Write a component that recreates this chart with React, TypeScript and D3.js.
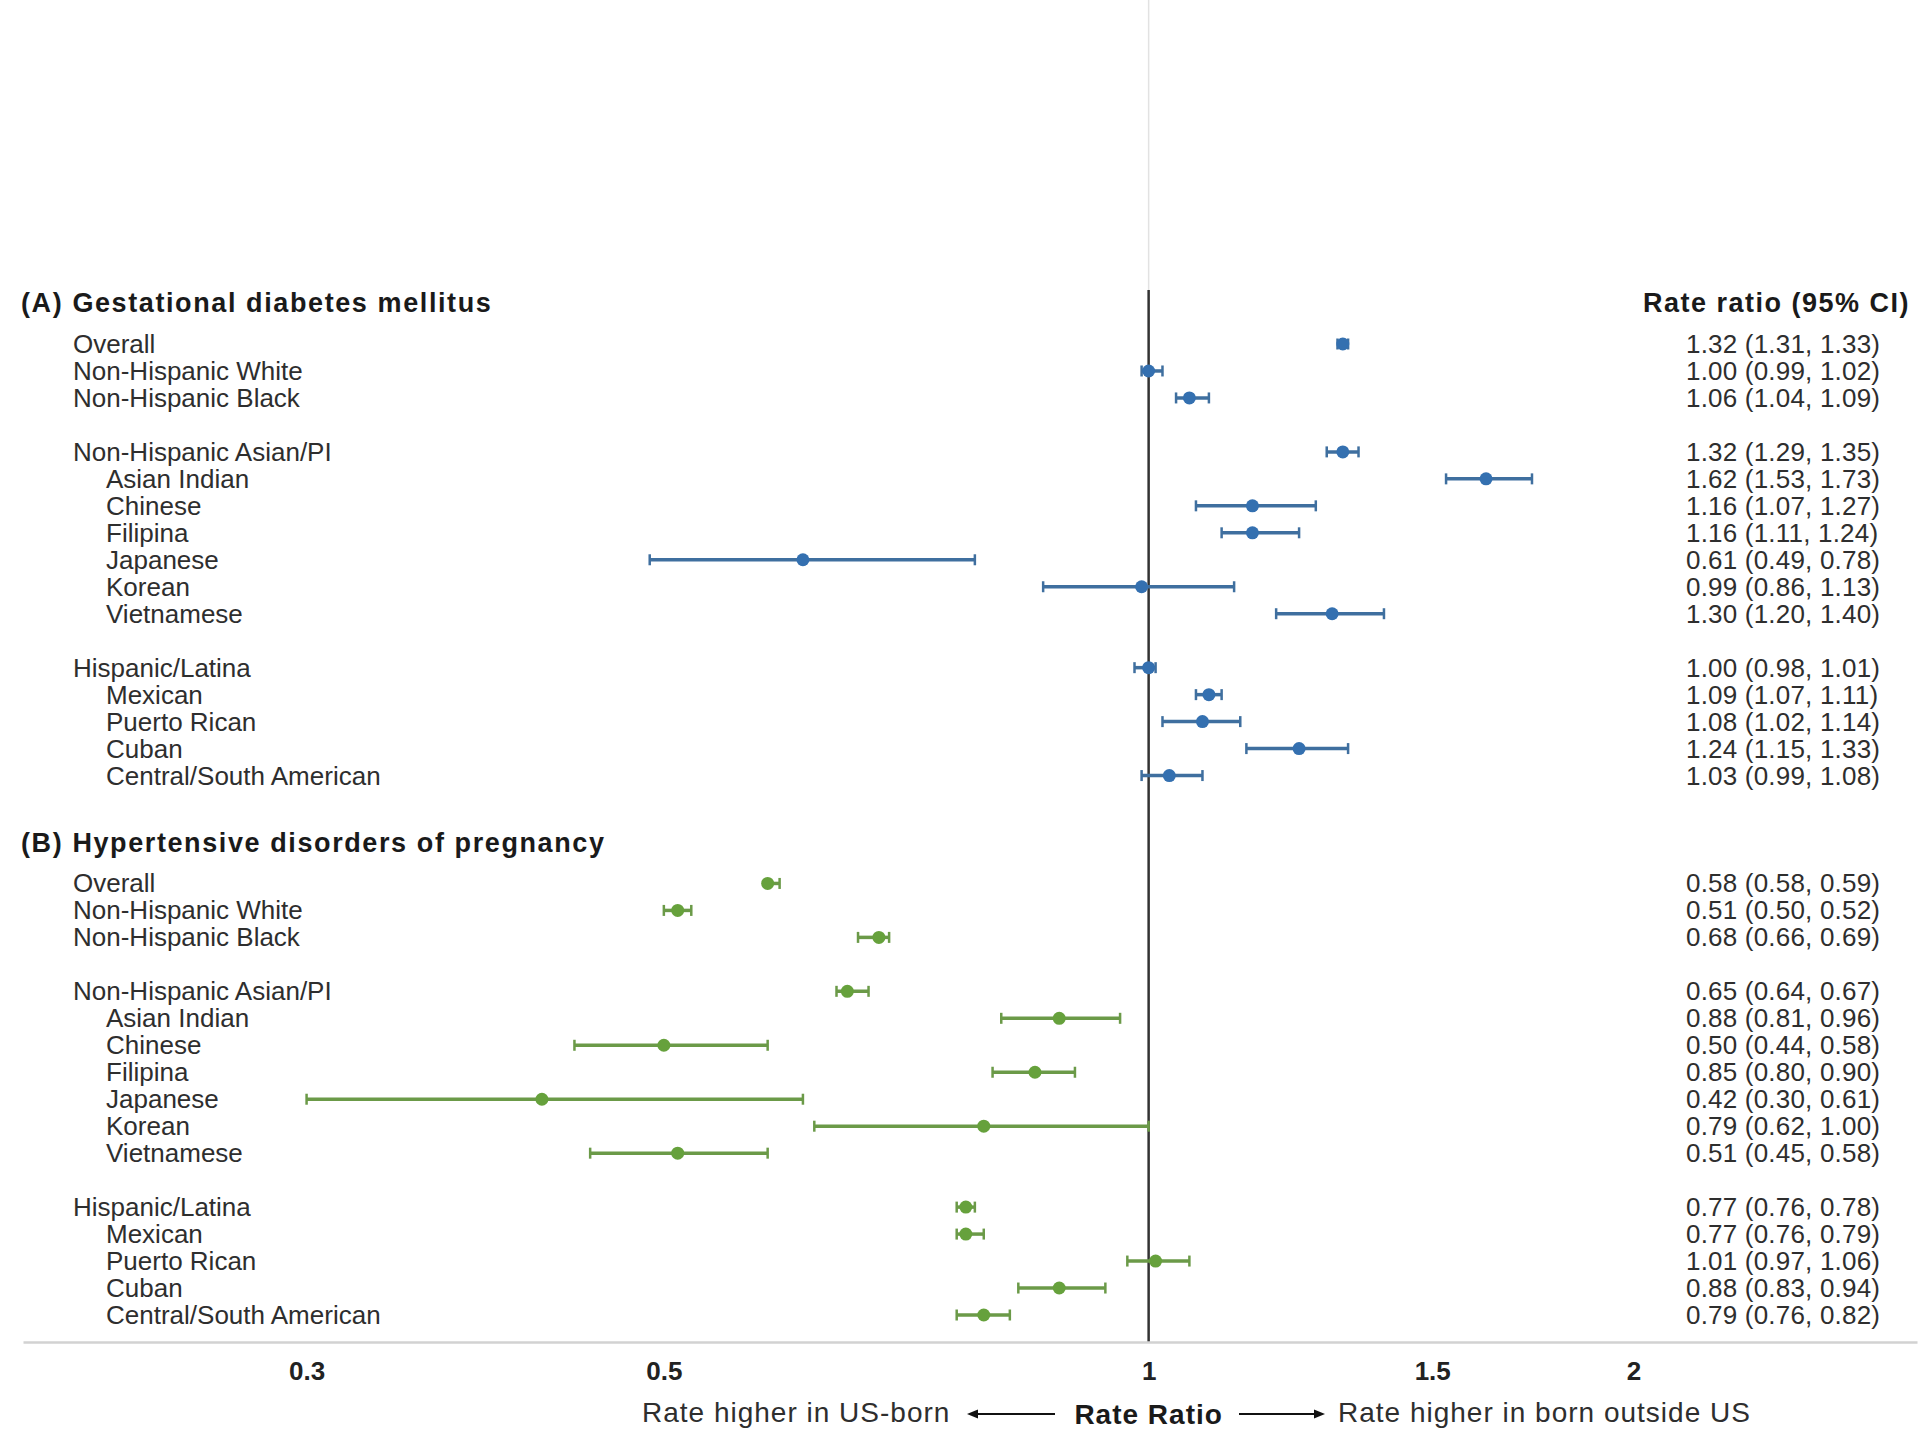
import React, { useEffect, useRef } from 'react';
import * as d3 from 'd3';

// row labels, in three blocks separated by a blank row
const groupLabels: string[][] = [
  ['Overall', 'Non-Hispanic White', 'Non-Hispanic Black'],
  ['Non-Hispanic Asian/PI', 'Asian Indian', 'Chinese', 'Filipina', 'Japanese', 'Korean', 'Vietnamese'],
  ['Hispanic/Latina', 'Mexican', 'Puerto Rican', 'Cuban', 'Central/South American'],
];
const subgroupLabels = ['Asian Indian', 'Chinese', 'Filipina', 'Japanese', 'Korean', 'Vietnamese',
  'Mexican', 'Puerto Rican', 'Cuban', 'Central/South American'];

const sectionTitles = ['(A) Gestational diabetes mellitus', '(B) Hypertensive disorders of pregnancy'];

// (A) gestational diabetes
const gdmRR = [1.32, 1.00, 1.06, 1.32, 1.62, 1.16, 1.16, 0.61, 0.99, 1.30, 1.00, 1.09, 1.08, 1.24, 1.03];
const gdmLo = [1.31, 0.99, 1.04, 1.29, 1.53, 1.07, 1.11, 0.49, 0.86, 1.20, 0.98, 1.07, 1.02, 1.15, 0.99];
const gdmHi = [1.33, 1.02, 1.09, 1.35, 1.73, 1.27, 1.24, 0.78, 1.13, 1.40, 1.01, 1.11, 1.14, 1.33, 1.08];

// (B) hypertensive disorders
const hdpRR = [0.58, 0.51, 0.68, 0.65, 0.88, 0.50, 0.85, 0.42, 0.79, 0.51, 0.77, 0.77, 1.01, 0.88, 0.79];
const hdpLo = [0.58, 0.50, 0.66, 0.64, 0.81, 0.44, 0.80, 0.30, 0.62, 0.45, 0.76, 0.76, 0.97, 0.83, 0.76];
const hdpHi = [0.59, 0.52, 0.69, 0.67, 0.96, 0.58, 0.90, 0.61, 1.00, 0.58, 0.78, 0.79, 1.06, 0.94, 0.82];

const tickValues = [0.3, 0.5, 1, 1.5, 2];

const W = 1920;
const H = 1447;
const FONT = '"Liberation Sans", Arial, sans-serif';
const TEXT = '#2e2e2e';

const ForestPlot = () => {
  const svgRef = useRef<SVGSVGElement>(null);

  useEffect(() => {
    document.body.style.margin = '0';
    const svg = d3.select(svgRef.current);
    svg.selectAll('*').remove();
    svg.attr('width', W).attr('height', H).style('display', 'block').style('background', '#fff');

    const x = d3.scaleLog().domain([0.2, 3]).range([23, 1917]);
    const y = d3.scaleLinear().domain([0, 36]).range([344, 1315]);
    const axisY = 1342;
    const fmt = d3.format('.2f');

    // slot index for each row, blank row between blocks, header between sections
    const labels = groupLabels.flat();
    const slots: number[] = [];
    let s = 0;
    groupLabels.forEach((g) => {
      g.forEach(() => slots.push(s++));
      s++;
    });
    const sectionOffset = slots[slots.length - 1] + 4;

    const sections = [
      { rr: gdmRR, lo: gdmLo, hi: gdmHi, color: '#3470b0', line: '#3f6f9f', offset: 0 },
      { rr: hdpRR, lo: hdpLo, hi: hdpHi, color: '#66a13c', line: '#6b9a48', offset: sectionOffset },
    ];

    // faint line above plot, dark reference line at 1
    svg.append('line')
      .attr('x1', x(1)).attr('x2', x(1))
      .attr('y1', 0).attr('y2', 290)
      .attr('stroke', '#e2e2e2').attr('stroke-width', 1.5);
    svg.append('line')
      .attr('x1', x(1)).attr('x2', x(1))
      .attr('y1', 290).attr('y2', axisY)
      .attr('stroke', '#333').attr('stroke-width', 2.5);

    // axis
    const axis = svg.append('g')
      .attr('transform', `translate(0,${axisY})`)
      .call(d3.axisBottom(x).tickValues(tickValues).tickSize(0).tickPadding(20).tickFormat(d3.format('~g') as any));
    axis.select('.domain').attr('stroke', '#d2d2d2').attr('stroke-width', 2.5);
    axis.selectAll('text')
      .attr('fill', '#222')
      .style('font-family', FONT)
      .style('font-size', '26px')
      .style('font-weight', 'bold');

    // column header
    svg.append('text')
      .attr('x', 1910).attr('y', y(-1.55) + 10)
      .attr('text-anchor', 'end')
      .attr('fill', '#1a1a1a')
      .style('font-family', FONT).style('font-size', '27px').style('font-weight', 'bold')
      .style('letter-spacing', '1.5px')
      .text('Rate ratio (95% CI)');

    sections.forEach((sec, si) => {
      const g = svg.append('g');

      g.append('text')
        .attr('x', 21).attr('y', y(sec.offset - 1.55) + 10)
        .attr('fill', '#1a1a1a')
        .style('font-family', FONT).style('font-size', '27px').style('font-weight', 'bold')
        .style('letter-spacing', '1.6px')
        .text(sectionTitles[si]);

      labels.forEach((lab, i) => {
        const yy = y(slots[i] + sec.offset);

        g.append('text')
          .attr('x', subgroupLabels.includes(lab) ? 106 : 73)
          .attr('y', yy + 9)
          .attr('fill', TEXT)
          .style('font-family', FONT).style('font-size', '26px')
          .text(lab);

        g.append('text')
          .attr('x', 1686)
          .attr('y', yy + 9)
          .attr('fill', TEXT)
          .style('font-family', FONT).style('font-size', '26px')
          .style('letter-spacing', '0.2px')
          .text(`${fmt(sec.rr[i])} (${fmt(sec.lo[i])}, ${fmt(sec.hi[i])})`);

        // CI whisker with caps
        g.append('line')
          .attr('x1', x(sec.lo[i])).attr('x2', x(sec.hi[i]))
          .attr('y1', yy).attr('y2', yy)
          .attr('stroke', sec.line).attr('stroke-width', 3.5);
        [sec.lo[i], sec.hi[i]].forEach((v) => {
          g.append('line')
            .attr('x1', x(v)).attr('x2', x(v))
            .attr('y1', yy - 5.5).attr('y2', yy + 5.5)
            .attr('stroke', sec.line).attr('stroke-width', 2.5);
        });
        g.append('circle')
          .attr('cx', x(sec.rr[i])).attr('cy', yy)
          .attr('r', 6.5)
          .attr('fill', sec.color);
      });
    });

    // bottom caption with arrows
    const capY = 1422;
    const arrowY = 1414;
    const cap = svg.append('g')
      .style('font-family', FONT).style('font-size', '28px').attr('fill', TEXT);
    cap.append('text').attr('x', 642).attr('y', capY).style('letter-spacing', '1px').text('Rate higher in US-born');
    cap.append('text').attr('x', x(1)).attr('y', capY + 2).attr('text-anchor', 'middle')
      .attr('fill', '#1a1a1a').style('font-weight', 'bold').style('letter-spacing', '1px').text('Rate Ratio');
    cap.append('text').attr('x', 1338).attr('y', capY).style('letter-spacing', '1px').text('Rate higher in born outside US');

    const arrows = [
      { from: 1055, to: 967 },
      { from: 1239, to: 1325 },
    ];
    arrows.forEach((a) => {
      const dir = Math.sign(a.to - a.from);
      cap.append('line')
        .attr('x1', a.from).attr('x2', a.to - dir * 8)
        .attr('y1', arrowY).attr('y2', arrowY)
        .attr('stroke', '#111').attr('stroke-width', 2);
      cap.append('path')
        .attr('d', `M${a.to},${arrowY} L${a.to - dir * 11},${arrowY - 4.5} L${a.to - dir * 11},${arrowY + 4.5} Z`)
        .attr('fill', '#111');
    });
  }, []);

  return <svg ref={svgRef}></svg>;
};

export default function App() {
  return <ForestPlot />;
}
